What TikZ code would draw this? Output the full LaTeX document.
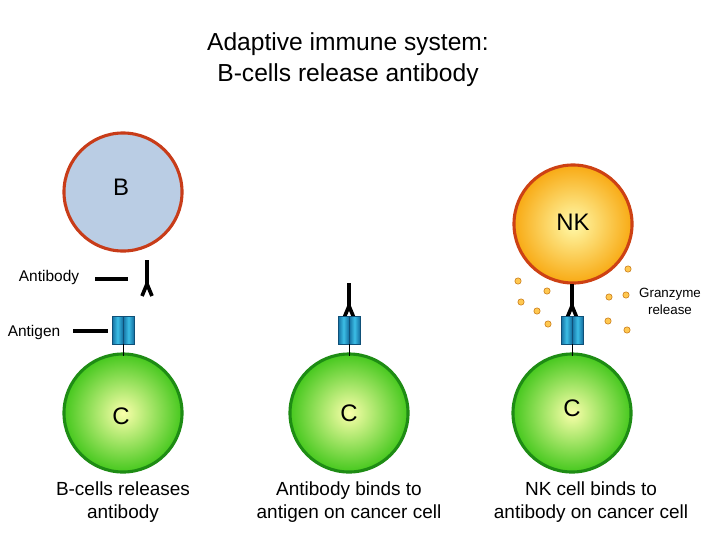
\documentclass[tikz,border=0pt]{standalone}
\usepackage{fontspec}
\setmainfont{Liberation Sans}
\usetikzlibrary{positioning,arrows.meta}
\tikzset{
    >=Stealth,
    cell/.style={circle,minimum size=2.95cm,line width=2.2pt,font=\fontsize{17}{17}\selectfont},
    bcell/.style={cell,draw={rgb,255:red,200;green,60;blue,25},fill={rgb,255:red,186;green,205;blue,228}},
    nkcell/.style={cell,draw={rgb,255:red,205;green,65;blue,20},inner color={rgb,255:red,255;green,250;blue,170},outer color={rgb,255:red,248;green,170;blue,20}},
    ccell/.style={cell,draw={rgb,255:red,30;green,140;blue,20},inner color={rgb,255:red,250;green,255;blue,170},outer color={rgb,255:red,70;green,200;blue,30}},
    caption/.style={align=center,font=\fontsize{13.5}{16}\selectfont},
    granule/.style={circle,draw={rgb,255:red,200;green,120;blue,20},fill={rgb,255:red,255;green,200;blue,80},line width=0.4pt,inner sep=0pt,minimum size=4.5pt}
}
% antibody: stem on top, two legs below
\newcommand{\antibody}[3]{% x, stem top, legs end
  \draw[line width=2.6pt] (#1,#2) -- (#1,#3-12) -- (#1-5,#3) (#1,#3-12) -- (#1+5,#3);}
% antigen: two blue barrels with a thin stalk
\newcommand{\antigen}[2]{% x, top
  \foreach \dx in {-11,0}{
    \shade[left color={rgb,255:red,20;green,110;blue,160},right color={rgb,255:red,20;green,110;blue,160},middle color={rgb,255:red,60;green,190;blue,230},draw={rgb,255:red,15;green,80;blue,120},line width=0.3pt]
      (#1+\dx,#2) -- (#1+\dx+11,#2) -- (#1+\dx+11,#2+28) -- (#1+\dx,#2+28) -- cycle;}
  \draw[line width=0.5pt] (#1,#2+28) -- (#1,#2+40);}

\begin{document}
\begin{tikzpicture}[x=0.025cm,y=-0.025cm]
  \useasboundingbox (0,0) rectangle (720,540);

  \node[align=center,font=\fontsize{17.5}{22}\selectfont] (title) at (348,60) {Adaptive immune system:\\B-cells release antibody};

  % cells
  \node[bcell]  (B)  at (123,192) {};
  \node[nkcell] (NK) at (573,224) {};
  \node[ccell]  (C1) at (123,413) {};
  \node[ccell]  (C2) at (349,413) {};
  \node[ccell]  (C3) at (572,413) {};
  \node[font=\fontsize{17}{17}\selectfont] at (121,187) {B};
  \node[font=\fontsize{17}{17}\selectfont] at (573,222) {NK};
  \node[font=\fontsize{17}{17}\selectfont] at (121,416) {C};
  \node[font=\fontsize{17}{17}\selectfont] at (349,413) {C};
  \node[font=\fontsize{17}{17}\selectfont] at (572,408) {C};

  % antibodies and antigens
  \antibody{147}{260}{296}
  \antibody{349}{283}{318}
  \antibody{572}{284}{318}
  \antigen{123}{316}
  \antigen{349}{316}
  \antigen{572}{316}

  % labels on the left
  \node[font=\fontsize{11}{11}\selectfont] (ablabel) at (49,277) {Antibody};
  \node[font=\fontsize{11}{11}\selectfont] (aglabel) at (34,332) {Antigen};
  \coordinate (abend) at (128,279);
  \coordinate (agend) at (108,331);
  \draw[line width=2.6pt] (95,279) -- (abend);
  \draw[line width=2.6pt] (73,331) -- (agend);

  % granzyme
  \foreach \gx/\gy in {518/281,547/291,521/302,537/311,548/324,628/269,626/295,609/297,608/321,627/330}
    \node[granule] at (\gx,\gy) {};
  \node[align=center,font=\fontsize{9.5}{12}\selectfont] (gzlabel) at (670,301) {Granzyme\\release};

  % captions
  \node[caption] (cap1) at (123,502) {B-cells releases\\antibody};
  \node[caption] (cap2) at (349,502) {Antibody binds to\\antigen on cancer cell};
  \node[caption] (cap3) at (591,502) {NK cell binds to\\antibody on cancer cell};
\end{tikzpicture}
\end{document}
